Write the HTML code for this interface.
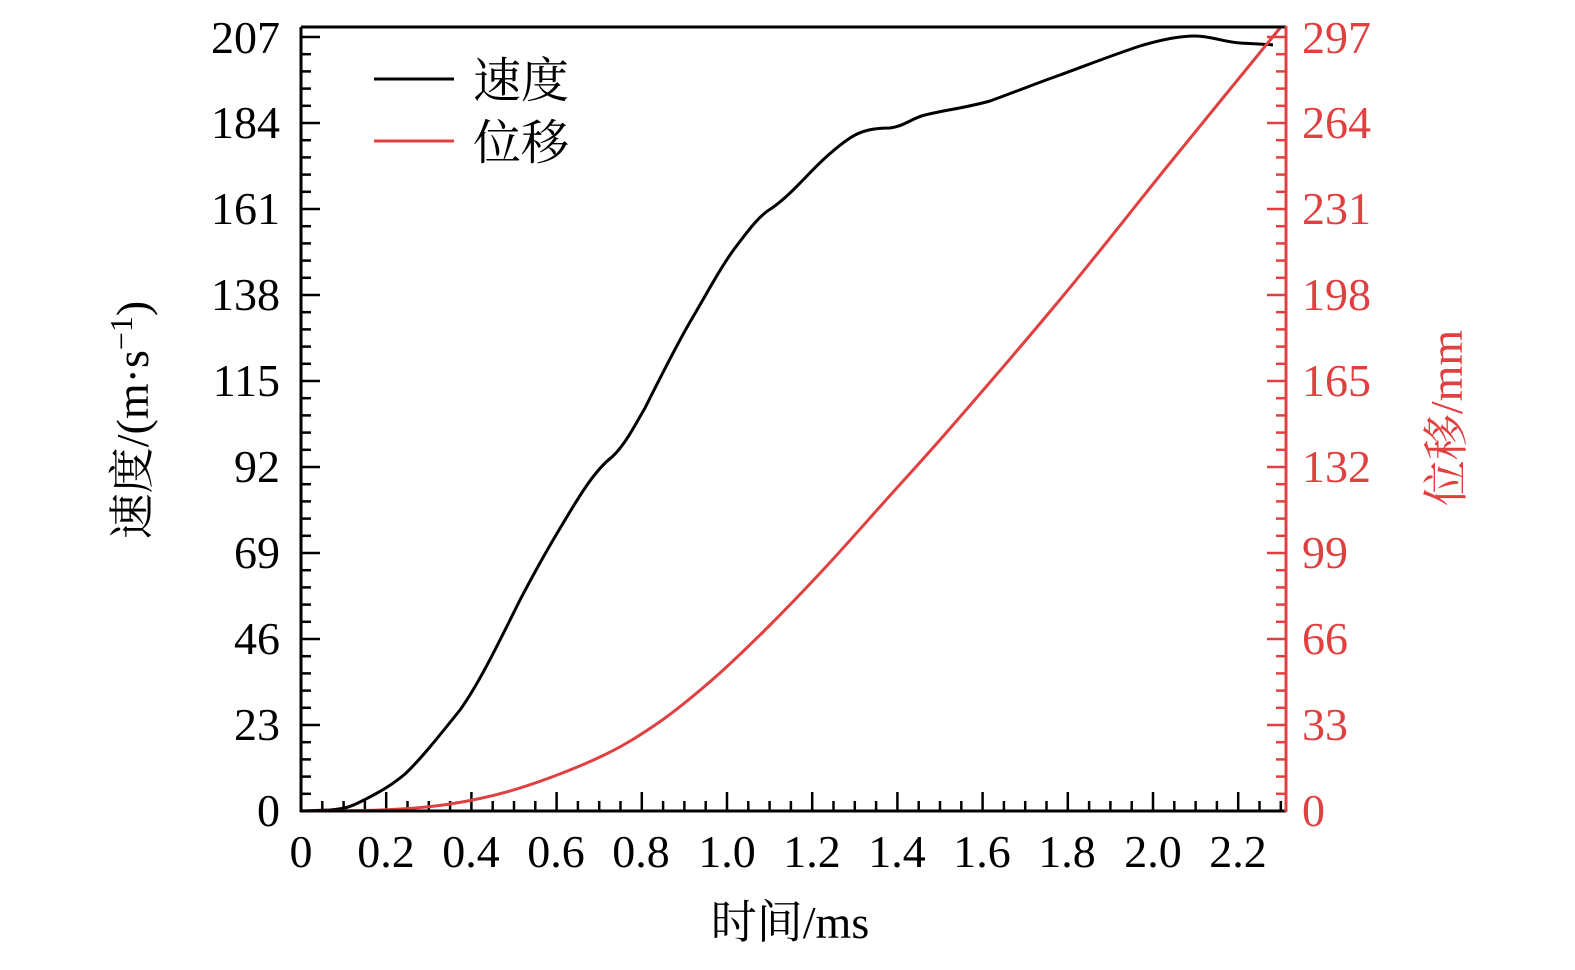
<!DOCTYPE html>
<html><head><meta charset="utf-8"><style>
html,body{margin:0;padding:0;background:#fff;}
svg text{font-family:"Liberation Serif","Noto Serif CJK SC",serif;}
</style></head><body>
<svg width="1575" height="965" viewBox="0 0 1575 965" xmlns="http://www.w3.org/2000/svg">
<g id="ticks"></g>
<path d="M301,811 L330,810 C345,809 352,806 360,802 C380,792 392,785 405,774 C420,760 440,735 460,710 C480,682 500,640 520,600 C540,562 550,545 565,520 C580,495 595,470 612,457 C625,445 635,425 645,408 C660,378 675,348 690,322 C705,297 720,268 735,248 C750,228 760,215 772,208 C785,199 795,188 805,178 C820,162 835,148 850,138 C862,130 875,128 890,128 C905,126 912,118 925,115 C945,110 965,108 990,101 C1020,90 1040,82 1060,75 C1090,64 1110,56 1140,46 C1160,40 1180,36 1195,36 C1210,36 1225,42 1240,43 C1255,44 1265,44 1273,45" fill="none" stroke="#000" stroke-width="3"/>
<path id="red" fill="none" stroke="#e04040" stroke-width="3"/>
<line x1="301" y1="27" x2="1286" y2="27" stroke="#000" stroke-width="3"/>
<line x1="301" y1="27" x2="301" y2="812" stroke="#000" stroke-width="3"/>
<line x1="300" y1="811" x2="1286" y2="811" stroke="#000" stroke-width="3"/>
<line x1="1286" y1="26" x2="1286" y2="812" stroke="#e04040" stroke-width="3"/>
<g font-size="46" text-anchor="end" fill="#000">
<text x="280" y="826">0</text><text x="280" y="740">23</text><text x="280" y="654">46</text><text x="280" y="568">69</text><text x="280" y="482">92</text><text x="280" y="396">115</text><text x="280" y="310">138</text><text x="280" y="224">161</text><text x="280" y="138">184</text><text x="280" y="53">207</text>
</g>
<g font-size="46" text-anchor="start" fill="#e04040">
<text x="1302" y="826">0</text><text x="1302" y="740">33</text><text x="1302" y="654">66</text><text x="1302" y="568">99</text><text x="1302" y="482">132</text><text x="1302" y="396">165</text><text x="1302" y="310">198</text><text x="1302" y="224">231</text><text x="1302" y="138">264</text><text x="1302" y="53">297</text>
</g>
<g font-size="46" text-anchor="middle" fill="#000">
<text x="301" y="867">0</text><text x="386" y="867">0.2</text><text x="471" y="867">0.4</text><text x="556" y="867">0.6</text><text x="641" y="867">0.8</text><text x="727" y="867">1.0</text><text x="812" y="867">1.2</text><text x="897" y="867">1.4</text><text x="982" y="867">1.6</text><text x="1067" y="867">1.8</text><text x="1153" y="867">2.0</text><text x="1238" y="867">2.2</text>
</g>
<text x="790" y="938" font-size="46" text-anchor="middle">时间/ms</text>
<text transform="translate(148,420) rotate(-90)" font-size="46" text-anchor="middle">速度/(m·s<tspan dy="-16" font-size="32">−1</tspan><tspan dy="16">)</tspan></text>
<text transform="translate(1462,418) rotate(-90)" font-size="46" text-anchor="middle" fill="#e04040">位移/mm</text>
<line x1="374" y1="79" x2="454" y2="79" stroke="#000" stroke-width="3"/>
<line x1="374" y1="141" x2="454" y2="141" stroke="#e04040" stroke-width="3"/>
<text x="473" y="97" font-size="48">速度</text>
<text x="473" y="159" font-size="48">位移</text>
</svg>
<script>
var g=document.getElementById('ticks'),s='';
function L(x1,y1,x2,y2,c){s+='<line x1="'+x1+'" y1="'+y1+'" x2="'+x2+'" y2="'+y2+'" stroke="'+c+'" stroke-width="2.5"/>';}
for(var i=0;i<=46;i++){var x=301+i*21.3;if(x>1284)break;L(x,811,x,i%4==0?792:801,'#000');}
for(var i=0;i<=45;i++){var y=811-i*17.2;if(y<28)break;L(301,y,i%5==0?320:311,y,'#000');L(1286,y,i%5==0?1267:1276,y,'#e04040');}
g.innerHTML=s;
var p=[[301,811],[380,810],[450,804],[520,788],[600,757],[658,723],[712,680],[765,630],[823,570],[886,500],[953,425],[1063,296],[1170,163],[1280,28]];
var d='M'+p[0];
for(var i=0;i<p.length-1;i++){var a=p[Math.max(0,i-1)],b=p[i],c=p[i+1],e=p[Math.min(p.length-1,i+2)];
d+=' C'+(b[0]+(c[0]-a[0])/6)+','+(b[1]+(c[1]-a[1])/6)+' '+(c[0]-(e[0]-b[0])/6)+','+(c[1]-(e[1]-b[1])/6)+' '+c[0]+','+c[1];}
document.getElementById('red').setAttribute('d',d);
</script>
</body></html>
